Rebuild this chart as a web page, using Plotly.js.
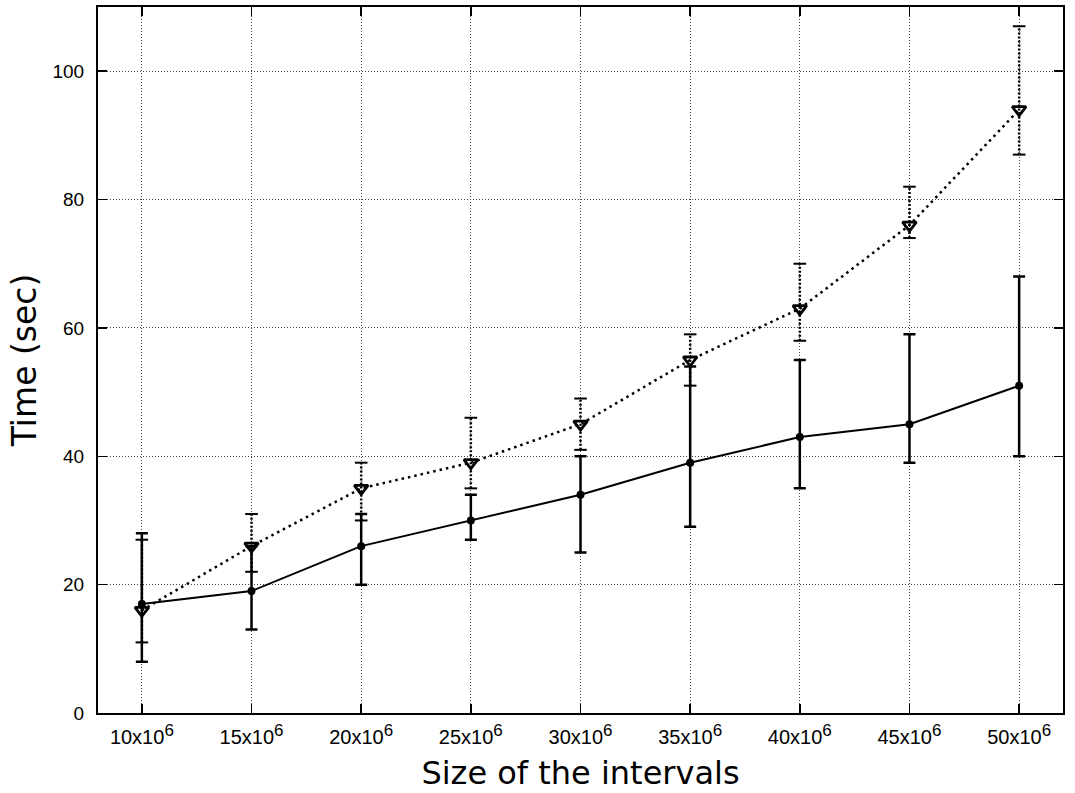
<!DOCTYPE html>
<html>
<head>
<meta charset="utf-8">
<script src="https://cdn.plot.ly/plotly-3.0.1.min.js"></script>
<style>html,body{margin:0;padding:0;background:#fff;}#chart{width:1075px;height:793px;}</style>
</head>
<body>
<div id="chart"></div>
<script>
// Data
var sizes = [10, 15, 20, 25, 30, 35, 40, 45, 50];
var tickLabels = ["10x10","15x10","20x10","25x10","30x10","35x10","40x10","45x10","50x10"];
var tickExponent = "6";
var solidMean = [17, 19, 26, 30, 34, 39, 43, 45, 51];
var solidLow  = [8, 13, 20, 27, 25, 29, 35, 39, 40];
var solidHigh = [28, 26, 31, 34, 40, 54, 55, 59, 68];
var dotMean = [16, 26, 35, 39, 45, 55, 63, 76, 94];
var dotLow  = [11, 22, 30, 35, 41, 51, 58, 74, 87];
var dotHigh = [27, 31, 39, 46, 49, 59, 70, 82, 107];

var tickText = tickLabels.map(function(t){
  return t + "<sup><span style='font-size:17px'>" + tickExponent + "</span></sup>";
});

// Build dotted error segments
var segX = [], segY = [], capX = [], capY = [];
for (var i = 0; i < sizes.length; i++) {
  segX.push(sizes[i], sizes[i], null);
  segY.push(dotLow[i], dotHigh[i], null);
  capX.push(sizes[i], sizes[i]);
  capY.push(dotLow[i], dotHigh[i]);
}

var traces = [
  {
    x: segX, y: segY, mode: 'lines', type: 'scatter',
    line: {color: '#000', width: 2.5, dash: '2px,2px'},
    hoverinfo: 'skip', showlegend: false
  },
  {
    x: capX, y: capY, mode: 'markers', type: 'scatter',
    marker: {symbol: 'line-ew-open', size: 9, color: '#000', line: {color: '#000', width: 2}},
    hoverinfo: 'skip', showlegend: false
  },
  {
    x: sizes, y: dotMean, mode: 'lines+markers', type: 'scatter',
    line: {color: '#000', width: 2.5, dash: '2.5px,4px'},
    marker: {symbol: 'triangle-down-open', size: 12, color: '#000', line: {color: '#000', width: 2.8}},
    showlegend: false
  },
  {
    x: sizes, y: solidMean, mode: 'lines+markers', type: 'scatter',
    line: {color: '#000', width: 2},
    marker: {symbol: 'circle', size: 8, color: '#000'},
    error_y: {
      type: 'data', symmetric: false,
      array: solidHigh.map(function(h, i){ return h - solidMean[i]; }),
      arrayminus: solidLow.map(function(l, i){ return solidMean[i] - l; }),
      color: '#000', thickness: 2.5, width: 6
    },
    showlegend: false
  }
];

var layout = {
  width: 1075, height: 793,
  margin: {l: 98, r: 12, t: 7, b: 80},
  paper_bgcolor: '#fff', plot_bgcolor: '#fff',
  showlegend: false,
  font: {family: 'Liberation Sans, Arial, sans-serif', color: '#000', size: 20},
  xaxis: {
    range: [8, 52],
    tickvals: sizes, ticktext: tickText,
    ticks: 'inside', ticklen: 9, tickwidth: 1.5, tickcolor: '#000',
    showline: true, linecolor: '#000', linewidth: 2, mirror: 'ticks',
    showgrid: true, gridcolor: '#444', gridwidth: 1, griddash: '1px,2px',
    zeroline: false,
    tickfont: {family: 'Liberation Sans, Arial, sans-serif', size: 20},
    ticklabelstandoff: 5,
    title: {text: 'Size of the intervals', font: {family: 'DejaVu Sans, sans-serif', size: 32}, standoff: 15},
    automargin: false
  },
  yaxis: {
    range: [0, 110],
    tickvals: [0, 20, 40, 60, 80, 100],
    ticks: 'inside', ticklen: 9, tickwidth: 1.5, tickcolor: '#000',
    showline: true, linecolor: '#000', linewidth: 2, mirror: 'ticks',
    showgrid: true, gridcolor: '#444', gridwidth: 1, griddash: '1px,2px',
    zeroline: false,
    tickfont: {family: 'Liberation Sans, Arial, sans-serif', size: 19},
    ticklabelstandoff: 8,
    title: {text: 'Time (sec)', font: {family: 'DejaVu Sans, sans-serif', size: 33}, standoff: 6},
    automargin: false
  }
};

Plotly.newPlot('chart', traces, layout, {displayModeBar: false, staticPlot: true});
</script>
</body>
</html>
